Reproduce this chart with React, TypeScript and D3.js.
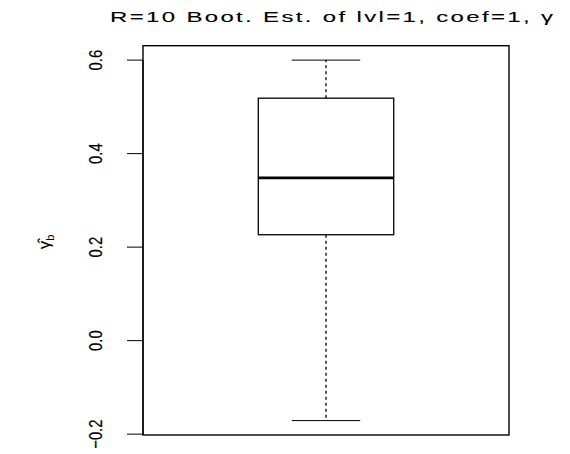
import React from "react";
import * as d3 from "d3";

// Bootstrap summary for the single coefficient
const groups = ["gamma"];
const whiskerLow = [-0.171];
const q1 = [0.2265];
const median = [0.348];
const q3 = [0.5186];
const whiskerHigh = [0.6];
const yTicks = [-0.2, 0.0, 0.2, 0.4, 0.6];

const W = 570;
const H = 454;
const plot = { left: 143, right: 509, top: 45.7, bottom: 435 };

export default function App() {
  const lo = d3.min(whiskerLow) as number;
  const hi = d3.max(whiskerHigh) as number;
  const pad = (hi - lo) * 0.04;
  const y = d3.scaleLinear().domain([lo - pad, hi + pad]).range([plot.bottom, plot.top]);
  const x = d3.scaleLinear().domain([0.5, 1.5]).range([plot.left, plot.right]);
  const boxHalf = 0.185;
  const capHalf = 0.0935;
  const fmt = d3.format(".1f");
  const titleScale = 1.6;

  return (
    <svg
      width={W}
      height={H}
      style={{ position: "absolute", left: 0, top: 0, background: "#fff" }}
    >
      <g transform={`translate(110,22) scale(${titleScale},1)`}>
        <text
          x={0}
          y={0}
          fontFamily="Liberation Sans, Arial, sans-serif"
          fontSize={15}
          textLength={443 / titleScale}
          lengthAdjust="spacing"
          stroke="#000"
          strokeWidth={0.1}
          fill="#000"
        >
          R=10 Boot. Est. of lvl=1, coef=1, γ
        </text>
      </g>

      {/* y axis label */}
      <g transform="translate(50,242) rotate(-90)">
        <text
          textAnchor="middle"
          fontFamily="Liberation Sans, Arial, sans-serif"
          fontSize={17}
          fill="#000"
        >
          <tspan>γ̂</tspan>
          <tspan fontSize={11} dy={4}>b</tspan>
        </text>
      </g>

      {/* y axis */}
      <line x1={plot.left} x2={plot.left} y1={y(yTicks[0])} y2={y(yTicks[yTicks.length - 1])} stroke="#000" strokeWidth={1.2} />
      {yTicks.map((t) => (
        <g key={t}>
          <line x1={127} x2={plot.left} y1={y(t)} y2={y(t)} stroke="#000" strokeWidth={1} />
          <g transform={`translate(102,${y(t)}) rotate(-90) scale(0.78,1)`}>
            <text
              textAnchor="middle"
              fontFamily="Liberation Sans, Arial, sans-serif"
              fontSize={19}
              stroke="#000"
              strokeWidth={0.2}
              fill="#000"
            >
              {fmt(t)}
            </text>
          </g>
        </g>
      ))}

      {/* boxes */}
      {groups.map((g, i) => {
        const cx = x(i + 1);
        return (
          <g key={g}>
            <line x1={cx} x2={cx} y1={y(q3[i])} y2={y(whiskerHigh[i])} stroke="#000" strokeWidth={1.3} strokeDasharray="3,3" />
            <line x1={cx} x2={cx} y1={y(q1[i])} y2={y(whiskerLow[i])} stroke="#000" strokeWidth={1.3} strokeDasharray="3,3" />
            <line x1={x(i + 1 - capHalf)} x2={x(i + 1 + capHalf)} y1={y(whiskerHigh[i])} y2={y(whiskerHigh[i])} stroke="#000" strokeWidth={1} />
            <line x1={x(i + 1 - capHalf)} x2={x(i + 1 + capHalf)} y1={y(whiskerLow[i])} y2={y(whiskerLow[i])} stroke="#000" strokeWidth={1} />
            <rect
              x={x(i + 1 - boxHalf)}
              y={y(q3[i])}
              width={x(i + 1 + boxHalf) - x(i + 1 - boxHalf)}
              height={y(q1[i]) - y(q3[i])}
              fill="none"
              stroke="#000"
              strokeWidth={1.3}
            />
            <line x1={x(i + 1 - boxHalf)} x2={x(i + 1 + boxHalf)} y1={y(median[i])} y2={y(median[i])} stroke="#000" strokeWidth={2.8} />
          </g>
        );
      })}

      {/* plot frame */}
      <rect
        x={plot.left}
        y={plot.top}
        width={plot.right - plot.left}
        height={plot.bottom - plot.top}
        fill="none"
        stroke="#000"
        strokeWidth={1.4}
      />
    </svg>
  );
}
